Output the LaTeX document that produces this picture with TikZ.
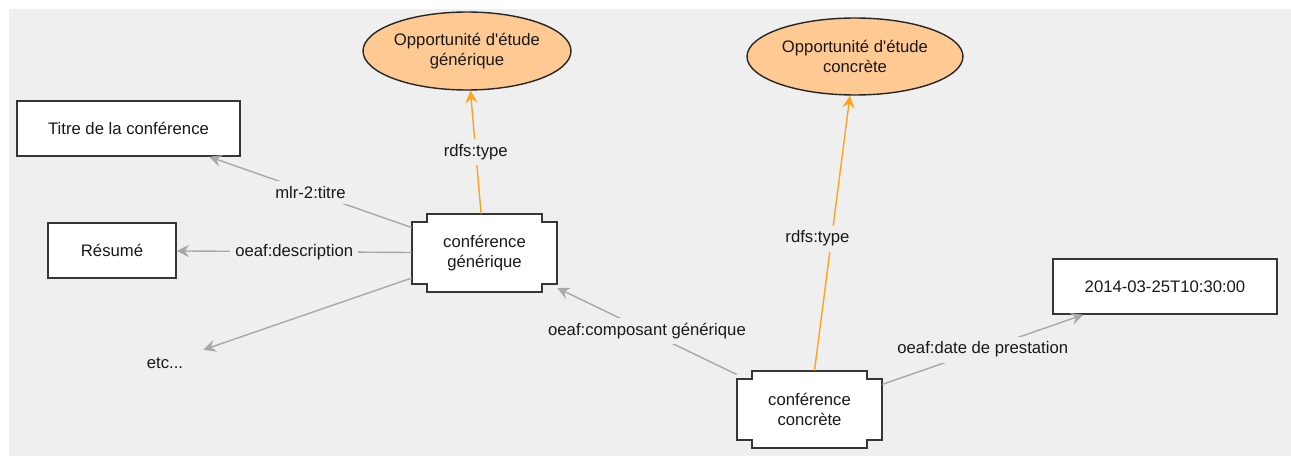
\documentclass[tikz,border=0pt]{standalone}
\usepackage{fontspec}
\setmainfont{Liberation Sans}
\usepackage{xcolor}
\usepackage{tikz}
\usetikzlibrary{shapes.geometric, arrows.meta, calc, backgrounds}

\definecolor{canvas}{HTML}{EFEFEF}
\definecolor{edgegray}{HTML}{A8A8A8}
\definecolor{classfill}{HTML}{FFC994}
\definecolor{typeorange}{HTML}{FFA31A}
\definecolor{boxline}{HTML}{363636}

\tikzset{
  every node/.style={font=\fontsize{9.5}{11.8}\selectfont, text=black!90},
  literal/.style={draw=boxline, fill=white, line width=0.9pt, minimum height=1.1cm, inner sep=0pt},
  classnode/.style={ellipse, draw=black!85, fill=classfill, line width=0.8pt, align=center, inner sep=0pt},
  resource/.style={align=center, minimum width=2.9cm, inner sep=0pt},
  prop/.style={draw=edgegray, line width=0.8pt, -{Stealth[length=7pt, width=7pt, inset=2.5pt]}},
  typeof/.style={draw=typeorange, line width=0.8pt, -{Stealth[length=7pt, width=7pt, inset=2.5pt]}},
  lbl/.style={fill=canvas, inner sep=3pt}
}

% outline with cut corners, drawn behind a resource node
\newcommand{\drawnotched}[1]{%
  \draw[boxline, fill=white, line width=1pt]
    ($(#1.north west)+(0.3cm,0)$) -- ($(#1.north east)+(-0.3cm,0)$) -- ++(0,-0.16cm) -- ++(0.3cm,0)
    -- ($(#1.south east)+(0,0.16cm)$) -- ++(-0.3cm,0) -- ++(0,-0.16cm)
    -- ($(#1.south west)+(0.3cm,0)$) -- ++(0,0.16cm) -- ++(-0.3cm,0)
    -- ($(#1.north west)+(0,-0.16cm)$) -- ++(0.3cm,0) -- cycle;}

\begin{document}
\begin{tikzpicture}[x=0.02cm, y=-0.02cm]
    \useasboundingbox (0,0) rectangle (1291,456);

    % classes
    \node[classnode, minimum width=4.16cm, minimum height=1.56cm] (oppgen) at (467,51) {Opportunit\'e d\textquotesingle\'etude\\g\'en\'erique};
    \node[classnode, minimum width=4.32cm, minimum height=1.54cm] (oppconc) at (855,56.5) {Opportunit\'e d\textquotesingle\'etude\\concr\`ete};

    % literals
    \node[literal, minimum width=4.46cm] (titre) at (128.5,128.5) {Titre de la conf\'erence};
    \node[literal, minimum width=2.56cm] (resume) at (112,250.5) {R\'esum\'e};
    \node[literal, minimum width=4.48cm] (date) at (1165,286.5) {2014-03-25T10:30:00};
    \node[inner sep=0.4cm] (etc) at (165,363) {etc...};

    % resources
    \node[resource, minimum height=1.56cm] (confgen) at (484.5,253) {conf\'erence\\g\'en\'erique};
    \node[resource, minimum height=1.54cm] (confconc) at (809.5,409.5) {conf\'erence\\concr\`ete};

    \begin{scope}[on background layer]
        \fill[canvas] (9,9) rectangle (1291,456);
        \drawnotched{confgen}
        \drawnotched{confconc}
    \end{scope}

    % properties
    \draw[typeof] (confgen) -- node[lbl] {rdfs:type} (oppgen);
    \draw[typeof] (confconc) -- node[lbl, pos=0.48, xshift=-8pt] {rdfs:type} (oppconc);
    \draw[prop] (confgen) -- node[lbl] {mlr-2:titre} (titre);
    \draw[prop] (confgen) -- node[lbl] {oeaf:description} (resume);
    \draw[prop] (confgen) -- (etc);
    \draw[prop] (confconc) -- node[lbl] {oeaf:composant g\'en\'erique} (confgen);
    \draw[prop] (confconc) -- node[lbl] {oeaf:date de prestation} (date);
\end{tikzpicture}
\end{document}
